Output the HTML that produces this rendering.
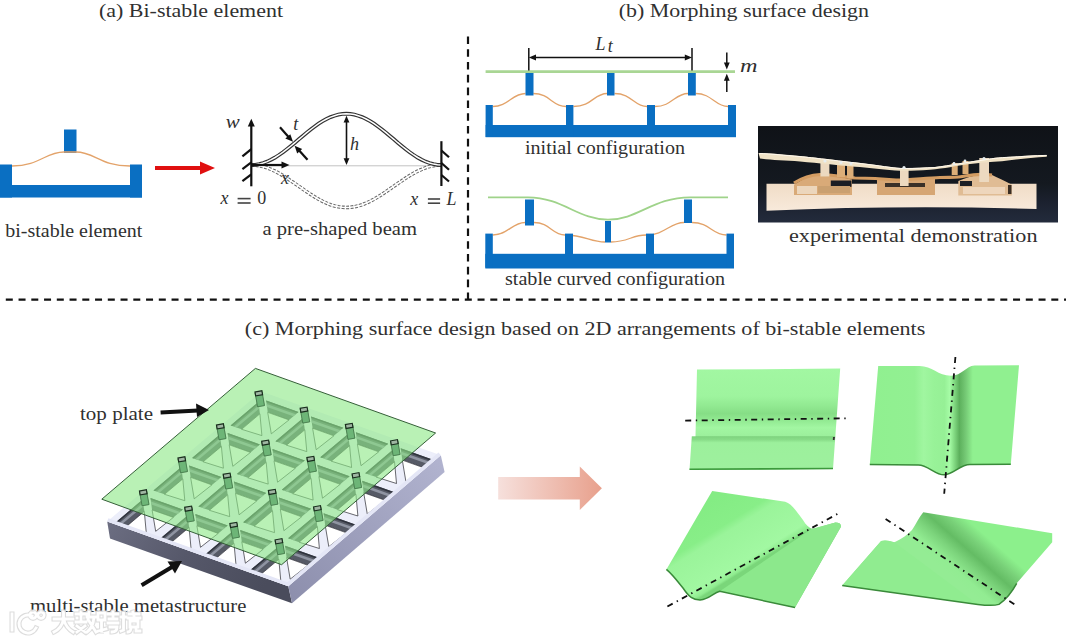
<!DOCTYPE html>
<html><head><meta charset="utf-8">
<style>
html,body{margin:0;padding:0;background:#fff;width:1080px;height:642px;overflow:hidden}
svg{position:absolute;left:0;top:0}
text{font-family:"Liberation Serif",serif;fill:#303030}
.t{font-size:18px}
.m{font-style:italic;font-size:18px}
</style></head><body>
<svg width="1080" height="642" viewBox="0 0 1080 642">
<defs>
<marker id="ah" viewBox="0 0 10 10" refX="9" refY="5" markerWidth="6" markerHeight="6" orient="auto-start-reverse"><path d="M0,1 L10,5 L0,9 z" fill="#111"/></marker>
</defs>
<!-- dashed dividers -->
<line x1="5.8" y1="299.6" x2="1066" y2="299.6" stroke="#111" stroke-width="2.2" stroke-dasharray="7 5.75"/>
<line x1="468" y1="36.4" x2="468" y2="299" stroke="#111" stroke-width="2.2" stroke-dasharray="7.6 5.2"/>

<!-- titles -->
<text class="t" x="99" y="16.8" textLength="184" lengthAdjust="spacingAndGlyphs">(a) Bi-stable element</text>
<text class="t" x="618.7" y="16.8" textLength="250.3" lengthAdjust="spacingAndGlyphs">(b) Morphing surface design</text>
<text class="t" x="244.8" y="335.2" textLength="680.5" lengthAdjust="spacingAndGlyphs">(c) Morphing surface design based on 2D arrangements of bi-stable elements</text>

<!-- captions -->
<text class="t" x="5.3" y="236.5" textLength="137" lengthAdjust="spacingAndGlyphs">bi-stable element</text>
<text class="t" x="262.5" y="235.3" textLength="154.5" lengthAdjust="spacingAndGlyphs">a pre-shaped beam</text>
<text class="t" x="525" y="153.8" textLength="160" lengthAdjust="spacingAndGlyphs">initial configuration</text>
<text class="t" x="505" y="285" textLength="220" lengthAdjust="spacingAndGlyphs">stable curved configuration</text>
<text class="t" x="789" y="241.5" textLength="248.5" lengthAdjust="spacingAndGlyphs">experimental demonstration</text>
<text class="t" x="80" y="419.6" textLength="73" lengthAdjust="spacingAndGlyphs">top plate</text>
<text class="t" x="30" y="611.6" textLength="216.3" lengthAdjust="spacingAndGlyphs">multi-stable metastructure</text>

<!-- (a) bistable element -->
<g fill="#0a6fc2">
<rect x="0" y="164.5" width="12" height="33"/>
<rect x="0" y="185" width="142" height="12.5"/>
<rect x="130" y="164.5" width="12" height="33"/>
<rect x="64" y="129.5" width="12.5" height="23.5"/>
</g>
<path d="M12,166 C40,166 45,152 64,152 L76,152 C95,152 100,166 130,166" fill="none" stroke="#e3a36a" stroke-width="1.3"/>
<!-- red arrow -->
<line x1="155" y1="168" x2="203" y2="168" stroke="#e01010" stroke-width="4"/>
<path d="M200,161.5 L215,168 L200,174.5 z" fill="#e01010"/>


<!-- (a) beam -->
<line x1="251.3" y1="165.8" x2="441.4" y2="165.8" stroke="#bbb" stroke-width="0.9"/>
<path d="M251.3,165.0 255.3,165.2 259.2,165.7 263.2,166.6 267.1,167.8 271.1,169.4 275.1,171.2 279.0,173.3 283.0,175.6 286.9,178.1 290.9,180.8 294.9,183.5 298.8,186.2 302.8,189.0 306.7,191.7 310.7,194.4 314.7,196.9 318.6,199.2 322.6,201.3 326.5,203.1 330.5,204.7 334.5,205.9 338.4,206.8 342.4,207.3 346.4,207.5 350.3,207.3 354.3,206.8 358.2,205.9 362.2,204.7 366.2,203.1 370.1,201.3 374.1,199.2 378.0,196.9 382.0,194.4 386.0,191.7 389.9,189.0 393.9,186.2 397.8,183.5 401.8,180.8 405.8,178.1 409.7,175.6 413.7,173.3 417.6,171.2 421.6,169.4 425.6,167.8 429.5,166.6 433.5,165.7 437.4,165.2 441.4,165.0" fill="none" stroke="#666" stroke-width="3.6" stroke-dasharray="3 1.4"/>
<path d="M251.3,165.0 255.3,165.2 259.2,165.7 263.2,166.6 267.1,167.8 271.1,169.4 275.1,171.2 279.0,173.3 283.0,175.6 286.9,178.1 290.9,180.8 294.9,183.5 298.8,186.2 302.8,189.0 306.7,191.7 310.7,194.4 314.7,196.9 318.6,199.2 322.6,201.3 326.5,203.1 330.5,204.7 334.5,205.9 338.4,206.8 342.4,207.3 346.4,207.5 350.3,207.3 354.3,206.8 358.2,205.9 362.2,204.7 366.2,203.1 370.1,201.3 374.1,199.2 378.0,196.9 382.0,194.4 386.0,191.7 389.9,189.0 393.9,186.2 397.8,183.5 401.8,180.8 405.8,178.1 409.7,175.6 413.7,173.3 417.6,171.2 421.6,169.4 425.6,167.8 429.5,166.6 433.5,165.7 437.4,165.2 441.4,165.0" fill="none" stroke="#fff" stroke-width="1.6"/>
<path d="M251.3,165.0 255.3,164.8 259.2,164.1 263.2,163.0 267.1,161.6 271.1,159.7 275.1,157.5 279.0,155.0 283.0,152.2 286.9,149.2 290.9,146.0 294.9,142.7 298.8,139.3 302.8,136.0 306.7,132.7 310.7,129.5 314.7,126.5 318.6,123.7 322.6,121.2 326.5,119.0 330.5,117.1 334.5,115.7 338.4,114.6 342.4,113.9 346.4,113.7 350.3,113.9 354.3,114.6 358.2,115.7 362.2,117.1 366.2,119.0 370.1,121.2 374.1,123.7 378.0,126.5 382.0,129.5 386.0,132.7 389.9,136.0 393.9,139.3 397.8,142.7 401.8,146.0 405.8,149.2 409.7,152.2 413.7,155.0 417.6,157.5 421.6,159.7 425.6,161.6 429.5,163.0 433.5,164.1 437.4,164.8 441.4,165.0" fill="none" stroke="#333" stroke-width="3.8"/>
<path d="M251.3,165.0 255.3,164.8 259.2,164.1 263.2,163.0 267.1,161.6 271.1,159.7 275.1,157.5 279.0,155.0 283.0,152.2 286.9,149.2 290.9,146.0 294.9,142.7 298.8,139.3 302.8,136.0 306.7,132.7 310.7,129.5 314.7,126.5 318.6,123.7 322.6,121.2 326.5,119.0 330.5,117.1 334.5,115.7 338.4,114.6 342.4,113.9 346.4,113.7 350.3,113.9 354.3,114.6 358.2,115.7 362.2,117.1 366.2,119.0 370.1,121.2 374.1,123.7 378.0,126.5 382.0,129.5 386.0,132.7 389.9,136.0 393.9,139.3 397.8,142.7 401.8,146.0 405.8,149.2 409.7,152.2 413.7,155.0 417.6,157.5 421.6,159.7 425.6,161.6 429.5,163.0 433.5,164.1 437.4,164.8 441.4,165.0" fill="none" stroke="#fff" stroke-width="1.5"/>
<g stroke="#111" stroke-width="2.2" fill="none">
<line x1="251.3" y1="186.3" x2="251.3" y2="124"/>
<line x1="242.4" y1="156.4" x2="251.3" y2="149.2"/>
<line x1="242.4" y1="169.2" x2="251.3" y2="162.4"/>
<line x1="242.4" y1="181.2" x2="251.3" y2="174.3"/>
<line x1="441.4" y1="141.2" x2="441.4" y2="186"/>
<line x1="441.4" y1="150.5" x2="449" y2="157.3"/>
<line x1="441.4" y1="163" x2="449" y2="169.8"/>
<line x1="441.4" y1="175" x2="449" y2="181.5"/>
<line x1="251.3" y1="165" x2="283" y2="165"/>
<line x1="280" y1="127.3" x2="289" y2="137.5"/>
<line x1="307.5" y1="159.8" x2="298.5" y2="149.8"/>
</g>
<g fill="#111">
<path d="M251.3,118.7 L247.8,126.5 L254.8,126.5 z"/>
<path d="M289.5,165 L281.5,161.5 L281.5,168.5 z"/>
<path d="M293,141.8 L285.3,138.6 L290.3,134.2 z"/>
<path d="M294.6,145.8 L302.2,149 L297.2,153.4 z"/>
</g>
<g stroke="#111" stroke-width="1.6">
<line x1="346.5" y1="120" x2="346.5" y2="161"/>
</g>
<g fill="#111">
<path d="M346.5,115.8 L343.6,122.5 L349.4,122.5 z"/>
<path d="M346.5,165 L343.6,158.3 L349.4,158.3 z"/>
</g>
<text class="m" x="225.8" y="128.1" font-size="20" textLength="14" lengthAdjust="spacingAndGlyphs">w</text>
<text class="m" x="293.3" y="129.8" font-size="20">t</text>
<text class="m" x="350" y="149.8" font-size="20">h</text>
<text class="m" x="281" y="183.8">x</text>
<text class="m" x="220.5" y="204.3" font-size="19">x</text><rect x="237.6" y="197.8" width="13" height="1.6" fill="#444"/><rect x="237.6" y="202.2" width="13" height="1.6" fill="#444"/><text class="t" x="257.3" y="204.3" font-size="19">0</text>
<text class="m" x="410.2" y="204.8" font-size="19">x</text><rect x="427.9" y="198.2" width="12.2" height="1.6" fill="#444"/><rect x="427.9" y="202.4" width="12.2" height="1.6" fill="#444"/><text class="m" x="446.5" y="204.8" font-size="19">L</text>


<!-- (b) initial configuration -->
<path d="M492.8,106.5 C508,106.5 512,93.5 525.5,93.5 M533.3,93.5 C550,93.5 552,106.5 566,106.5 M573.4,106.5 C592,106.5 594,93.5 607,93.5 M614.5,93.5 C632,93.5 634,106.5 647,106.5 M655,106.5 C672,106.5 675,93.5 688,93.5 M695.8,93.5 C712,93.5 715,106.5 728,106.5" fill="none" stroke="#e3a36a" stroke-width="1.3"/>
<g fill="#0a6fc2">
<rect x="485.6" y="125" width="250.4" height="12.2"/>
<rect x="485.6" y="105" width="7.2" height="32"/>
<rect x="566" y="105" width="7.4" height="32"/>
<rect x="647" y="105" width="8" height="32"/>
<rect x="728" y="105" width="8" height="32"/>
<rect x="525.5" y="72.5" width="8" height="23"/>
<rect x="607" y="72.5" width="7.5" height="23"/>
<rect x="688" y="72.5" width="7.8" height="23"/>
</g>
<line x1="485.6" y1="71.6" x2="735" y2="71.6" stroke="#a9d694" stroke-width="2.6"/>
<g stroke="#111" stroke-width="1.5">
<line x1="528.8" y1="48" x2="528.8" y2="70.5"/>
<line x1="692" y1="48" x2="692" y2="70.5"/>
<line x1="532" y1="57.5" x2="689" y2="57.5"/>
<line x1="726.8" y1="52.5" x2="726.8" y2="64"/>
<line x1="726.8" y1="92" x2="726.8" y2="79"/>
</g>
<g fill="#111">
<path d="M528.8,57.5 L536,54.6 L536,60.4 z"/>
<path d="M692,57.5 L684.8,54.6 L684.8,60.4 z"/>
<path d="M726.8,69.5 L723.9,62.5 L729.7,62.5 z"/>
<path d="M726.8,73.8 L723.9,80.8 L729.7,80.8 z"/>
</g>
<text class="m" x="595.5" y="50" font-size="19">L</text><text class="m" x="607.8" y="51.8" font-size="11.5">t</text>
<text class="m" x="740" y="72" font-size="19" textLength="17.5" lengthAdjust="spacingAndGlyphs">m</text>

<!-- (b) stable curved configuration -->
<path d="M488,197.4 L528,197.4 C563,197.6 578,219.7 608,219.7 C638,219.7 653,197.4 690,197.4 L728,197.4" fill="none" stroke="#9fd38a" stroke-width="1.8"/>
<path d="M492.8,235 C508,235 512,222.5 525,222.5 M534,222.5 C550,222.5 552,235 565,235 C585,235 590,242 605,242 M611,242 C628,242 632,235 646,235 C665,235 670,222.5 684,222.5 M692,222.5 C710,222.5 712,235 726.5,235" fill="none" stroke="#e3a36a" stroke-width="1.3"/>
<g fill="#0a6fc2">
<rect x="485.3" y="253.8" width="248.7" height="14.7"/>
<rect x="485.3" y="233.6" width="7.5" height="34"/>
<rect x="565" y="233.6" width="8" height="34"/>
<rect x="646" y="233.6" width="8" height="34"/>
<rect x="726.5" y="233.6" width="7.5" height="34"/>
<rect x="525" y="199.5" width="9" height="26"/>
<rect x="605" y="221" width="6" height="21.5"/>
<rect x="684" y="199.5" width="8" height="23.5"/>
</g>


<!-- photo -->
<defs>
<linearGradient id="pbg" x1="0" y1="0" x2="0" y2="1">
<stop offset="0" stop-color="#0f1217"/><stop offset="0.6" stop-color="#141920"/><stop offset="0.8" stop-color="#1c2230"/><stop offset="1" stop-color="#232b3c"/>
</linearGradient>
<linearGradient id="pbase" x1="0" y1="0" x2="0" y2="1">
<stop offset="0" stop-color="#f0dcc6"/><stop offset="1" stop-color="#f8eadb"/>
</linearGradient>
</defs>
<rect x="758" y="126" width="300" height="96.5" fill="url(#pbg)"/>
<!-- base -->
<path d="M766.5,183.8 L1036.5,183.8 L1036.5,209 Q900,205 766.5,210.8 z" fill="url(#pbase)"/>
<!-- cavity blocks with roofs -->
<path d="M794,195 L794,184.7 C800,181 806,177 812,176 L827,175 C835,176 845,178 852,179.5 L852,195 z" fill="#d9aa78"/>
<path d="M830.8,180.5 L851.5,180.5 L851.5,186.8 L830.8,186.8 z" fill="#1a1d24"/>
<path d="M797,186 L817,186 L817,194 L797,194 z" fill="#ecd6bc"/>
<path d="M818,186 L850,186 L850,193 L818,193 z" fill="#caa070"/>
<path d="M877,195 L877,180 C885,178.5 895,179 905,180 C915,179.5 925,178.5 935,178 L935,195 z" fill="#d6a674"/>
<path d="M885,183 L925,183 L925,187 L885,187 z" fill="#3a3028"/>
<path d="M958.3,195.5 L958.3,181.1 C965,178 972,176 978,175 L992,175 C998,178 1005,181 1011.8,184.7 L1011.8,195.5 z" fill="#e0bc94"/>
<path d="M960,181 L972,181 L972,186 L960,186 z" fill="#1c1f26"/>
<path d="M1008,185 L1011.5,185 L1011.5,194 L1008,194 z" fill="#3a2e24"/>
<path d="M963,187 L1005,187 L1005,194 L963,194 z" fill="#eed6bc"/>
<!-- tan beams -->
<path d="M794,183 C802,178 810,175 820,174.5 C835,175 845,177 855,178 C865,178 875,178 896,180 C910,180 925,178 940,177.5 C950,177 958,178 965,176 C975,174 985,174 992,175" fill="none" stroke="#d39c62" stroke-width="3.2"/>
<!-- posts -->
<g fill="#dcae78">
<rect x="837" y="163" width="8" height="14"/>
<rect x="847" y="164" width="6.5" height="14"/>
<rect x="951.7" y="163" width="6" height="12"/>
<rect x="962.5" y="161" width="6" height="13"/>
</g>
<g fill="#ecd9c0">
<rect x="820.4" y="162.5" width="9" height="14"/>
<rect x="900" y="168" width="8.6" height="18"/>
<rect x="979.3" y="158" width="9.7" height="24"/>
</g>
<!-- top plate -->
<path d="M758.5,153 C770,153 785,154.9 800,156 C815,157.5 830,159.5 868,163.9 C885,166 895,168 904,168 C915,168 925,167.5 935,167 C950,165 965,162 984,159.4 C995,157.5 1002,157 1015,156.5 C1030,155.5 1040,155 1047,155 L1046.7,156.8 C1030,158 1015,159.5 1002,161.2 C990,162 984,162 970,164 C955,166 945,168.5 930,169.7 C915,170.8 905,171 895,170.5 C880,169 868,167.5 855,166.7 C835,165 820,163.2 800,161.5 C785,160.4 770,160 760,158.5 z" fill="#f0e2c6"/>
<path d="M759.5,153.6 C770,153.6 785,155.5 800,156.6 C815,158 830,160 868,164.4 C885,166.5 895,168.5 904,168.5 C915,168.5 925,168 935,167.5 C950,165.5 965,162.5 984,160 C995,158 1002,157.5 1015,157 C1030,156 1040,155.5 1046.5,155.4" fill="none" stroke="#fff8ec" stroke-width="1"/>
<g fill="#e8eef0">
<circle cx="825" cy="161" r="1.6"/><circle cx="841" cy="162.5" r="1.5"/><circle cx="851" cy="163.5" r="1.5"/><circle cx="904" cy="167.5" r="1.6"/><circle cx="954" cy="163.5" r="1.4"/><circle cx="965" cy="161" r="1.4"/><circle cx="984" cy="158.5" r="1.6"/>
</g>
<!--3D-->
<defs><linearGradient id="lf" x1="0" y1="0" x2="1" y2="0.3"><stop offset="0" stop-color="#6c6e82"/><stop offset="0.5" stop-color="#56586a"/><stop offset="1" stop-color="#4a4c5c"/></linearGradient>
<linearGradient id="rf" x1="0" y1="1" x2="1" y2="0"><stop offset="0" stop-color="#8c8eac"/><stop offset="1" stop-color="#b2b4d0"/></linearGradient>
<clipPath id="baseclip"><polygon points="107.2,521.5 261.4,391.4 440.8,455.2 288.3,586.3" /></clipPath>
</defs>
<polygon points="107.2,521.5 288.3,586.3 292.0,603.3 110.0,538.5" fill="url(#lf)"/>
<polygon points="288.3,586.3 440.8,455.2 444.6,472.0 292.0,603.3" fill="url(#rf)"/>
<polygon points="107.2,521.5 261.4,391.4 440.8,455.2 288.3,586.3" fill="#eceefa"/>
<g clip-path="url(#baseclip)">
<polygon points="266.2,400.4 298.5,411.9 289.0,419.9 267.7,412.3" fill="#565a66"/>
<polygon points="266.6,404.0 295.6,414.3 293.3,416.3 267.0,406.9" fill="#8f94a2"/>
<polygon points="266.2,400.4 298.5,411.9 297.1,413.1 266.4,402.2" fill="#30343e"/>
<polygon points="267.7,412.3 289.0,419.9 271.3,433.8" fill="#ffffff" stroke="#2a2a30" stroke-width="0.7"/>
<polygon points="230.6,425.4 258.4,402.0 259.9,413.8 241.6,429.3" fill="#565a66"/>
<polygon points="233.9,426.5 258.9,405.5 259.2,408.5 236.7,427.5" fill="#8f94a2"/>
<polygon points="230.6,425.4 258.4,402.0 258.6,403.7 232.3,426.0" fill="#30343e"/>
<polygon points="241.6,429.3 259.9,413.8 261.9,435.6" fill="#ffffff" stroke="#2a2a30" stroke-width="0.7"/>
<polygon points="227.6,432.9 259.9,444.4 250.5,452.4 229.2,444.8" fill="#565a66"/>
<polygon points="228.1,436.5 257.1,446.8 254.7,448.8 228.5,439.5" fill="#8f94a2"/>
<polygon points="227.6,432.9 259.9,444.4 258.5,445.6 227.9,434.7" fill="#30343e"/>
<polygon points="229.2,444.8 250.5,452.4 232.8,466.3" fill="#ffffff" stroke="#2a2a30" stroke-width="0.7"/>
<polygon points="192.1,457.9 219.8,434.5 221.4,446.4 203.1,461.8" fill="#565a66"/>
<polygon points="195.4,459.1 220.3,438.0 220.7,441.0 198.1,460.1" fill="#8f94a2"/>
<polygon points="192.1,457.9 219.8,434.5 220.1,436.3 193.7,458.5" fill="#30343e"/>
<polygon points="203.1,461.8 221.4,446.4 223.4,468.2" fill="#ffffff" stroke="#2a2a30" stroke-width="0.7"/>
<polygon points="189.1,465.5 221.4,476.9 211.9,484.9 190.6,477.3" fill="#565a66"/>
<polygon points="189.5,469.0 218.5,479.3 216.2,481.3 189.9,472.0" fill="#8f94a2"/>
<polygon points="189.1,465.5 221.4,476.9 220.0,478.1 189.3,467.2" fill="#30343e"/>
<polygon points="190.6,477.3 211.9,484.9 194.2,498.8" fill="#ffffff" stroke="#2a2a30" stroke-width="0.7"/>
<polygon points="153.5,490.4 181.3,467.0 182.8,478.9 164.5,494.3" fill="#565a66"/>
<polygon points="156.8,491.6 181.8,470.6 182.1,473.5 159.6,492.6" fill="#8f94a2"/>
<polygon points="153.5,490.4 181.3,467.0 181.5,468.8 155.2,491.0" fill="#30343e"/>
<polygon points="164.5,494.3 182.8,478.9 184.8,500.7" fill="#ffffff" stroke="#2a2a30" stroke-width="0.7"/>
<polygon points="150.5,498.0 182.8,509.5 173.4,517.4 152.1,509.9" fill="#565a66"/>
<polygon points="151.0,501.5 180.0,511.9 177.6,513.9 151.4,504.5" fill="#8f94a2"/>
<polygon points="150.5,498.0 182.8,509.5 181.4,510.7 150.8,499.8" fill="#30343e"/>
<polygon points="152.1,509.9 173.4,517.4 155.7,531.3" fill="#ffffff" stroke="#2a2a30" stroke-width="0.7"/>
<polygon points="115.0,523.0 142.7,499.5 144.3,511.4 126.0,526.9" fill="#565a66"/>
<polygon points="118.3,524.1 143.2,503.1 143.6,506.1 121.0,525.1" fill="#8f94a2"/>
<polygon points="115.0,523.0 142.7,499.5 143.0,501.3 116.6,523.5" fill="#30343e"/>
<polygon points="126.0,526.9 144.3,511.4 146.3,533.2" fill="#ffffff" stroke="#2a2a30" stroke-width="0.7"/>
<polygon points="311.0,416.4 343.3,427.8 333.9,435.8 312.6,428.2" fill="#565a66"/>
<polygon points="311.5,419.9 340.5,430.2 338.1,432.2 311.9,422.9" fill="#8f94a2"/>
<polygon points="311.0,416.4 343.3,427.8 341.9,429.0 311.3,418.1" fill="#30343e"/>
<polygon points="312.6,428.2 333.9,435.8 316.2,449.7" fill="#ffffff" stroke="#2a2a30" stroke-width="0.7"/>
<polygon points="275.5,441.3 303.2,417.9 304.8,429.8 286.5,445.2" fill="#565a66"/>
<polygon points="278.8,442.5 303.7,421.5 304.1,424.4 281.5,443.5" fill="#8f94a2"/>
<polygon points="275.5,441.3 303.2,417.9 303.5,419.7 277.1,441.9" fill="#30343e"/>
<polygon points="286.5,445.2 304.8,429.8 306.8,451.6" fill="#ffffff" stroke="#2a2a30" stroke-width="0.7"/>
<polygon points="272.5,448.9 304.8,460.4 295.3,468.3 274.0,460.8" fill="#565a66"/>
<polygon points="272.9,452.4 301.9,462.8 299.6,464.8 273.3,455.4" fill="#8f94a2"/>
<polygon points="272.5,448.9 304.8,460.4 303.4,461.6 272.7,450.7" fill="#30343e"/>
<polygon points="274.0,460.8 295.3,468.3 277.6,482.2" fill="#ffffff" stroke="#2a2a30" stroke-width="0.7"/>
<polygon points="236.9,473.9 264.7,450.4 266.2,462.3 247.9,477.8" fill="#565a66"/>
<polygon points="240.2,475.0 265.2,454.0 265.5,457.0 243.0,476.0" fill="#8f94a2"/>
<polygon points="236.9,473.9 264.7,450.4 264.9,452.2 238.6,474.4" fill="#30343e"/>
<polygon points="247.9,477.8 266.2,462.3 268.2,484.1" fill="#ffffff" stroke="#2a2a30" stroke-width="0.7"/>
<polygon points="233.9,481.4 266.2,492.9 256.8,500.9 235.5,493.3" fill="#565a66"/>
<polygon points="234.4,485.0 263.4,495.3 261.0,497.3 234.8,487.9" fill="#8f94a2"/>
<polygon points="233.9,481.4 266.2,492.9 264.8,494.1 234.2,483.2" fill="#30343e"/>
<polygon points="235.5,493.3 256.8,500.9 239.1,514.8" fill="#ffffff" stroke="#2a2a30" stroke-width="0.7"/>
<polygon points="198.4,506.4 226.1,483.0 227.7,494.8 209.4,510.3" fill="#565a66"/>
<polygon points="201.7,507.5 226.6,486.5 227.0,489.5 204.4,508.5" fill="#8f94a2"/>
<polygon points="198.4,506.4 226.1,483.0 226.4,484.7 200.0,507.0" fill="#30343e"/>
<polygon points="209.4,510.3 227.7,494.8 229.7,516.6" fill="#ffffff" stroke="#2a2a30" stroke-width="0.7"/>
<polygon points="195.4,513.9 227.7,525.4 218.2,533.4 196.9,525.8" fill="#565a66"/>
<polygon points="195.8,517.5 224.8,527.8 222.5,529.8 196.2,520.5" fill="#8f94a2"/>
<polygon points="195.4,513.9 227.7,525.4 226.3,526.6 195.6,515.7" fill="#30343e"/>
<polygon points="196.9,525.8 218.2,533.4 200.5,547.3" fill="#ffffff" stroke="#2a2a30" stroke-width="0.7"/>
<polygon points="159.8,538.9 187.6,515.5 189.1,527.4 170.8,542.8" fill="#565a66"/>
<polygon points="163.1,540.1 188.1,519.0 188.4,522.0 165.9,541.1" fill="#8f94a2"/>
<polygon points="159.8,538.9 187.6,515.5 187.8,517.3 161.5,539.5" fill="#30343e"/>
<polygon points="170.8,542.8 189.1,527.4 191.1,549.2" fill="#ffffff" stroke="#2a2a30" stroke-width="0.7"/>
<polygon points="355.9,432.3 388.2,443.8 378.7,451.8 357.4,444.2" fill="#565a66"/>
<polygon points="356.3,435.9 385.3,446.2 383.0,448.2 356.7,438.8" fill="#8f94a2"/>
<polygon points="355.9,432.3 388.2,443.8 386.8,445.0 356.1,434.1" fill="#30343e"/>
<polygon points="357.4,444.2 378.7,451.8 361.0,465.7" fill="#ffffff" stroke="#2a2a30" stroke-width="0.7"/>
<polygon points="320.3,457.3 348.1,433.9 349.6,445.7 331.3,461.2" fill="#565a66"/>
<polygon points="323.6,458.4 348.6,437.4 348.9,440.4 326.4,459.4" fill="#8f94a2"/>
<polygon points="320.3,457.3 348.1,433.9 348.3,435.6 322.0,457.9" fill="#30343e"/>
<polygon points="331.3,461.2 349.6,445.7 351.6,467.5" fill="#ffffff" stroke="#2a2a30" stroke-width="0.7"/>
<polygon points="317.3,464.8 349.6,476.3 340.2,484.3 318.9,476.7" fill="#565a66"/>
<polygon points="317.8,468.4 346.8,478.7 344.4,480.7 318.2,471.4" fill="#8f94a2"/>
<polygon points="317.3,464.8 349.6,476.3 348.2,477.5 317.6,466.6" fill="#30343e"/>
<polygon points="318.9,476.7 340.2,484.3 322.5,498.2" fill="#ffffff" stroke="#2a2a30" stroke-width="0.7"/>
<polygon points="281.8,489.8 309.5,466.4 311.1,478.3 292.8,493.7" fill="#565a66"/>
<polygon points="285.1,491.0 310.0,469.9 310.4,472.9 287.8,492.0" fill="#8f94a2"/>
<polygon points="281.8,489.8 309.5,466.4 309.8,468.2 283.4,490.4" fill="#30343e"/>
<polygon points="292.8,493.7 311.1,478.3 313.1,500.1" fill="#ffffff" stroke="#2a2a30" stroke-width="0.7"/>
<polygon points="278.8,497.4 311.1,508.8 301.6,516.8 280.3,509.2" fill="#565a66"/>
<polygon points="279.2,500.9 308.2,511.2 305.9,513.2 279.6,503.9" fill="#8f94a2"/>
<polygon points="278.8,497.4 311.1,508.8 309.7,510.0 279.0,499.1" fill="#30343e"/>
<polygon points="280.3,509.2 301.6,516.8 283.9,530.7" fill="#ffffff" stroke="#2a2a30" stroke-width="0.7"/>
<polygon points="243.2,522.3 271.0,498.9 272.5,510.8 254.2,526.2" fill="#565a66"/>
<polygon points="246.5,523.5 271.5,502.5 271.8,505.4 249.3,524.5" fill="#8f94a2"/>
<polygon points="243.2,522.3 271.0,498.9 271.2,500.7 244.9,522.9" fill="#30343e"/>
<polygon points="254.2,526.2 272.5,510.8 274.5,532.6" fill="#ffffff" stroke="#2a2a30" stroke-width="0.7"/>
<polygon points="240.2,529.9 272.5,541.4 263.1,549.3 241.8,541.8" fill="#565a66"/>
<polygon points="240.7,533.4 269.7,543.8 267.3,545.8 241.1,536.4" fill="#8f94a2"/>
<polygon points="240.2,529.9 272.5,541.4 271.1,542.6 240.5,531.7" fill="#30343e"/>
<polygon points="241.8,541.8 263.1,549.3 245.4,563.2" fill="#ffffff" stroke="#2a2a30" stroke-width="0.7"/>
<polygon points="204.7,554.9 232.4,531.4 234.0,543.3 215.7,558.8" fill="#565a66"/>
<polygon points="208.0,556.0 232.9,535.0 233.3,538.0 210.7,557.0" fill="#8f94a2"/>
<polygon points="204.7,554.9 232.4,531.4 232.7,533.2 206.3,555.4" fill="#30343e"/>
<polygon points="215.7,558.8 234.0,543.3 236.0,565.1" fill="#ffffff" stroke="#2a2a30" stroke-width="0.7"/>
<polygon points="400.7,448.3 433.0,459.7 423.6,467.7 402.3,460.1" fill="#565a66"/>
<polygon points="401.2,451.8 430.2,462.1 427.8,464.1 401.6,454.8" fill="#8f94a2"/>
<polygon points="400.7,448.3 433.0,459.7 431.6,460.9 401.0,450.0" fill="#30343e"/>
<polygon points="402.3,460.1 423.6,467.7 405.9,481.6" fill="#ffffff" stroke="#2a2a30" stroke-width="0.7"/>
<polygon points="365.2,473.2 392.9,449.8 394.5,461.7 376.2,477.1" fill="#565a66"/>
<polygon points="368.5,474.4 393.4,453.4 393.8,456.3 371.2,475.4" fill="#8f94a2"/>
<polygon points="365.2,473.2 392.9,449.8 393.2,451.6 366.8,473.8" fill="#30343e"/>
<polygon points="376.2,477.1 394.5,461.7 396.5,483.5" fill="#ffffff" stroke="#2a2a30" stroke-width="0.7"/>
<polygon points="362.2,480.8 394.5,492.3 385.0,500.2 363.7,492.7" fill="#565a66"/>
<polygon points="362.6,484.3 391.6,494.7 389.3,496.7 363.0,487.3" fill="#8f94a2"/>
<polygon points="362.2,480.8 394.5,492.3 393.1,493.5 362.4,482.6" fill="#30343e"/>
<polygon points="363.7,492.7 385.0,500.2 367.3,514.1" fill="#ffffff" stroke="#2a2a30" stroke-width="0.7"/>
<polygon points="326.6,505.8 354.4,482.3 355.9,494.2 337.6,509.7" fill="#565a66"/>
<polygon points="329.9,506.9 354.9,485.9 355.2,488.9 332.7,507.9" fill="#8f94a2"/>
<polygon points="326.6,505.8 354.4,482.3 354.6,484.1 328.3,506.3" fill="#30343e"/>
<polygon points="337.6,509.7 355.9,494.2 357.9,516.0" fill="#ffffff" stroke="#2a2a30" stroke-width="0.7"/>
<polygon points="323.6,513.3 355.9,524.8 346.5,532.8 325.2,525.2" fill="#565a66"/>
<polygon points="324.1,516.9 353.1,527.2 350.7,529.2 324.5,519.8" fill="#8f94a2"/>
<polygon points="323.6,513.3 355.9,524.8 354.5,526.0 323.9,515.1" fill="#30343e"/>
<polygon points="325.2,525.2 346.5,532.8 328.8,546.7" fill="#ffffff" stroke="#2a2a30" stroke-width="0.7"/>
<polygon points="288.1,538.3 315.8,514.9 317.4,526.7 299.1,542.2" fill="#565a66"/>
<polygon points="291.4,539.4 316.3,518.4 316.7,521.4 294.1,540.4" fill="#8f94a2"/>
<polygon points="288.1,538.3 315.8,514.9 316.1,516.6 289.7,538.9" fill="#30343e"/>
<polygon points="299.1,542.2 317.4,526.7 319.4,548.5" fill="#ffffff" stroke="#2a2a30" stroke-width="0.7"/>
<polygon points="285.1,545.8 317.4,557.3 307.9,565.3 286.6,557.7" fill="#565a66"/>
<polygon points="285.5,549.4 314.5,559.7 312.2,561.7 285.9,552.4" fill="#8f94a2"/>
<polygon points="285.1,545.8 317.4,557.3 316.0,558.5 285.3,547.6" fill="#30343e"/>
<polygon points="286.6,557.7 307.9,565.3 290.2,579.2" fill="#ffffff" stroke="#2a2a30" stroke-width="0.7"/>
<polygon points="249.5,570.8 277.3,547.4 278.8,559.3 260.5,574.7" fill="#565a66"/>
<polygon points="252.8,572.0 277.8,550.9 278.1,553.9 255.6,573.0" fill="#8f94a2"/>
<polygon points="249.5,570.8 277.3,547.4 277.5,549.2 251.2,571.4" fill="#30343e"/>
<polygon points="260.5,574.7 278.8,559.3 280.8,581.1" fill="#ffffff" stroke="#2a2a30" stroke-width="0.7"/>
</g>
<polygon points="107.2,521.5 288.3,586.3 289.5,583.0 108.4,518.2" fill="#e4e6f6"/>
<polygon points="288.3,586.3 440.8,455.2 438.5,452.5 286.0,583.6" fill="#e4e6f6"/>
<g transform="rotate(-10 258.4 392.4)"><rect x="255.1" y="392.4" width="7" height="14" fill="#40444f" stroke="#202430" stroke-width="0.6"/></g>
<g transform="rotate(-10 219.9 425.4)"><rect x="216.6" y="425.4" width="7" height="14" fill="#40444f" stroke="#202430" stroke-width="0.6"/></g>
<g transform="rotate(-10 181.4 458.4)"><rect x="178.1" y="458.4" width="7" height="14" fill="#40444f" stroke="#202430" stroke-width="0.6"/></g>
<g transform="rotate(-10 142.9 491.4)"><rect x="139.6" y="491.4" width="7" height="14" fill="#40444f" stroke="#202430" stroke-width="0.6"/></g>
<g transform="rotate(-10 303.6 408.7)"><rect x="300.3" y="408.7" width="7" height="14" fill="#40444f" stroke="#202430" stroke-width="0.6"/></g>
<g transform="rotate(-10 265.1 441.7)"><rect x="261.8" y="441.7" width="7" height="14" fill="#40444f" stroke="#202430" stroke-width="0.6"/></g>
<g transform="rotate(-10 226.6 474.7)"><rect x="223.3" y="474.7" width="7" height="14" fill="#40444f" stroke="#202430" stroke-width="0.6"/></g>
<g transform="rotate(-10 188.1 507.7)"><rect x="184.8" y="507.7" width="7" height="14" fill="#40444f" stroke="#202430" stroke-width="0.6"/></g>
<g transform="rotate(-10 348.8 425.0)"><rect x="345.5" y="425.0" width="7" height="14" fill="#40444f" stroke="#202430" stroke-width="0.6"/></g>
<g transform="rotate(-10 310.3 458.0)"><rect x="307.0" y="458.0" width="7" height="14" fill="#40444f" stroke="#202430" stroke-width="0.6"/></g>
<g transform="rotate(-10 271.8 491.0)"><rect x="268.5" y="491.0" width="7" height="14" fill="#40444f" stroke="#202430" stroke-width="0.6"/></g>
<g transform="rotate(-10 233.3 524.0)"><rect x="230.0" y="524.0" width="7" height="14" fill="#40444f" stroke="#202430" stroke-width="0.6"/></g>
<g transform="rotate(-10 394.0 441.3)"><rect x="390.7" y="441.3" width="7" height="14" fill="#40444f" stroke="#202430" stroke-width="0.6"/></g>
<g transform="rotate(-10 355.5 474.3)"><rect x="352.2" y="474.3" width="7" height="14" fill="#40444f" stroke="#202430" stroke-width="0.6"/></g>
<g transform="rotate(-10 317.0 507.3)"><rect x="313.7" y="507.3" width="7" height="14" fill="#40444f" stroke="#202430" stroke-width="0.6"/></g>
<g transform="rotate(-10 278.5 540.3)"><rect x="275.2" y="540.3" width="7" height="14" fill="#40444f" stroke="#202430" stroke-width="0.6"/></g>
<polygon points="255.4,368.4 435.6,433.0 281.6,564.7 101.8,499.2" fill="#8ee888" fill-opacity="0.62" stroke="#355f38" stroke-width="1"/>
<g transform="rotate(-10 258.4 392.4)"><rect x="255.1" y="392.4" width="7" height="14" fill="#6db577" stroke="#3a6a40" stroke-width="0.6"/><rect x="255.1" y="391.4" width="7" height="4" fill="#9fb6a2" stroke="#1a2e1e" stroke-width="1.2"/></g>
<g transform="rotate(-10 219.9 425.4)"><rect x="216.6" y="425.4" width="7" height="14" fill="#6db577" stroke="#3a6a40" stroke-width="0.6"/><rect x="216.6" y="424.4" width="7" height="4" fill="#9fb6a2" stroke="#1a2e1e" stroke-width="1.2"/></g>
<g transform="rotate(-10 181.4 458.4)"><rect x="178.1" y="458.4" width="7" height="14" fill="#6db577" stroke="#3a6a40" stroke-width="0.6"/><rect x="178.1" y="457.4" width="7" height="4" fill="#9fb6a2" stroke="#1a2e1e" stroke-width="1.2"/></g>
<g transform="rotate(-10 142.9 491.4)"><rect x="139.6" y="491.4" width="7" height="14" fill="#6db577" stroke="#3a6a40" stroke-width="0.6"/><rect x="139.6" y="490.4" width="7" height="4" fill="#9fb6a2" stroke="#1a2e1e" stroke-width="1.2"/></g>
<g transform="rotate(-10 303.6 408.7)"><rect x="300.3" y="408.7" width="7" height="14" fill="#6db577" stroke="#3a6a40" stroke-width="0.6"/><rect x="300.3" y="407.7" width="7" height="4" fill="#9fb6a2" stroke="#1a2e1e" stroke-width="1.2"/></g>
<g transform="rotate(-10 265.1 441.7)"><rect x="261.8" y="441.7" width="7" height="14" fill="#6db577" stroke="#3a6a40" stroke-width="0.6"/><rect x="261.8" y="440.7" width="7" height="4" fill="#9fb6a2" stroke="#1a2e1e" stroke-width="1.2"/></g>
<g transform="rotate(-10 226.6 474.7)"><rect x="223.3" y="474.7" width="7" height="14" fill="#6db577" stroke="#3a6a40" stroke-width="0.6"/><rect x="223.3" y="473.7" width="7" height="4" fill="#9fb6a2" stroke="#1a2e1e" stroke-width="1.2"/></g>
<g transform="rotate(-10 188.1 507.7)"><rect x="184.8" y="507.7" width="7" height="14" fill="#6db577" stroke="#3a6a40" stroke-width="0.6"/><rect x="184.8" y="506.7" width="7" height="4" fill="#9fb6a2" stroke="#1a2e1e" stroke-width="1.2"/></g>
<g transform="rotate(-10 348.8 425.0)"><rect x="345.5" y="425.0" width="7" height="14" fill="#6db577" stroke="#3a6a40" stroke-width="0.6"/><rect x="345.5" y="424.0" width="7" height="4" fill="#9fb6a2" stroke="#1a2e1e" stroke-width="1.2"/></g>
<g transform="rotate(-10 310.3 458.0)"><rect x="307.0" y="458.0" width="7" height="14" fill="#6db577" stroke="#3a6a40" stroke-width="0.6"/><rect x="307.0" y="457.0" width="7" height="4" fill="#9fb6a2" stroke="#1a2e1e" stroke-width="1.2"/></g>
<g transform="rotate(-10 271.8 491.0)"><rect x="268.5" y="491.0" width="7" height="14" fill="#6db577" stroke="#3a6a40" stroke-width="0.6"/><rect x="268.5" y="490.0" width="7" height="4" fill="#9fb6a2" stroke="#1a2e1e" stroke-width="1.2"/></g>
<g transform="rotate(-10 233.3 524.0)"><rect x="230.0" y="524.0" width="7" height="14" fill="#6db577" stroke="#3a6a40" stroke-width="0.6"/><rect x="230.0" y="523.0" width="7" height="4" fill="#9fb6a2" stroke="#1a2e1e" stroke-width="1.2"/></g>
<g transform="rotate(-10 394.0 441.3)"><rect x="390.7" y="441.3" width="7" height="14" fill="#6db577" stroke="#3a6a40" stroke-width="0.6"/><rect x="390.7" y="440.3" width="7" height="4" fill="#9fb6a2" stroke="#1a2e1e" stroke-width="1.2"/></g>
<g transform="rotate(-10 355.5 474.3)"><rect x="352.2" y="474.3" width="7" height="14" fill="#6db577" stroke="#3a6a40" stroke-width="0.6"/><rect x="352.2" y="473.3" width="7" height="4" fill="#9fb6a2" stroke="#1a2e1e" stroke-width="1.2"/></g>
<g transform="rotate(-10 317.0 507.3)"><rect x="313.7" y="507.3" width="7" height="14" fill="#6db577" stroke="#3a6a40" stroke-width="0.6"/><rect x="313.7" y="506.3" width="7" height="4" fill="#9fb6a2" stroke="#1a2e1e" stroke-width="1.2"/></g>
<g transform="rotate(-10 278.5 540.3)"><rect x="275.2" y="540.3" width="7" height="14" fill="#6db577" stroke="#3a6a40" stroke-width="0.6"/><rect x="275.2" y="539.3" width="7" height="4" fill="#9fb6a2" stroke="#1a2e1e" stroke-width="1.2"/></g>
<line x1="160.6" y1="412.6" x2="198" y2="410.4" stroke="#111" stroke-width="4"/>
<path d="M209,410 L196,403.5 L197,417 z" fill="#111"/>
<line x1="141.6" y1="585.3" x2="172" y2="567" stroke="#111" stroke-width="4"/>
<path d="M182,561 L167.5,561.5 L175,573.5 z" fill="#111"/>
<!--/3D-->
<!--SURF-->
<defs>
<linearGradient id="s1g" x1="0" y1="369" x2="0" y2="470" gradientUnits="userSpaceOnUse">
<stop offset="0" stop-color="#a2f7a2"/>
<stop offset="0.27" stop-color="#9ef49e"/>
<stop offset="0.36" stop-color="#92ea92"/>
<stop offset="0.44" stop-color="#86de86"/>
<stop offset="0.50" stop-color="#90e890"/>
<stop offset="0.58" stop-color="#a2f6a2"/>
<stop offset="0.66" stop-color="#9cf09c"/>
<stop offset="0.67" stop-color="#80d480"/>
<stop offset="0.70" stop-color="#88dc88"/>
<stop offset="0.73" stop-color="#9cf09c"/>
<stop offset="1" stop-color="#9ef09e"/>
</linearGradient>
<linearGradient id="s2g" x1="870" y1="0" x2="1019" y2="0" gradientUnits="userSpaceOnUse">
<stop offset="0" stop-color="#90f090"/>
<stop offset="0.30" stop-color="#92f092"/>
<stop offset="0.36" stop-color="#a0f6a0"/>
<stop offset="0.43" stop-color="#98f298"/>
<stop offset="0.50" stop-color="#96f096"/>
<stop offset="0.535" stop-color="#a6fca6"/>
<stop offset="0.56" stop-color="#88e088"/>
<stop offset="0.60" stop-color="#5cb05c"/>
<stop offset="0.64" stop-color="#74c874"/>
<stop offset="0.69" stop-color="#90f090"/>
<stop offset="1" stop-color="#90f090"/>
</linearGradient>
<linearGradient id="s3g" x1="659.3" y1="532.6" x2="700" y2="598" gradientUnits="userSpaceOnUse">
<stop offset="0" stop-color="#84ec84"/>
<stop offset="0.36" stop-color="#88ee88"/>
<stop offset="0.46" stop-color="#9af49a"/>
<stop offset="0.9" stop-color="#a2f8a2"/>
<stop offset="0.97" stop-color="#90ec90"/>
<stop offset="1" stop-color="#7ad67a"/>
</linearGradient>
<linearGradient id="s4g" x1="985" y1="535" x2="950" y2="575" gradientUnits="userSpaceOnUse">
<stop offset="0" stop-color="#8cf08c"/>
<stop offset="0.22" stop-color="#78d078"/>
<stop offset="0.42" stop-color="#64bc64"/>
<stop offset="0.62" stop-color="#7cd47c"/>
<stop offset="0.85" stop-color="#92ec92"/>
<stop offset="1" stop-color="#94ec94"/>
</linearGradient>
<linearGradient id="arrg" x1="498" y1="0" x2="602" y2="0" gradientUnits="userSpaceOnUse">
<stop offset="0" stop-color="#f6e0dc"/><stop offset="1" stop-color="#e8a08c"/>
</linearGradient>
</defs>
<path d="M498.2,477.1 L579.8,477.1 L579.8,466.6 L601.9,488.3 L579.8,510 L579.8,499.6 L498.2,499.6 z" fill="url(#arrg)"/>
<path d="M697,369.6 L840.2,368.6 L833,469 L689.5,469.8 L691.8,436.3 L695.5,436.3 z" fill="url(#s1g)"/>
<path d="M689.5,469.3 L833,468.5" stroke="#3c9a3c" stroke-width="1.6" fill="none"/>
<path d="M833,437 L835,437 L834.5,440 L832.8,440 z" fill="#333"/>
<path d="M878.2,366 L919.6,366 C932,366 938,375.7 951,375.7 C962,375.7 966,366 974.5,365.5 L1019,365.2 L1010.8,464.3 L970,464.5 C960,464.5 953,474.8 944,474.8 C935,474.8 928,465 918.4,465 L869.8,464.5 z" fill="url(#s2g)"/>
<path d="M869.8,464.5 L918.4,465 C928,465 935,474.8 944,474.8 C953,474.8 960,464.5 970,464.5 L1010.8,464.3" stroke="#3a8a3a" stroke-width="1.5" fill="none"/>
<path d="M712.2,490.9 L785.2,501.8 C792,504 797,512 803,520 C806,525 809,528 813,529.1 L835.4,522.5 C839,522.5 841.5,524 840.8,526.9 L795,607.6 L719.8,591.2 C713,593 710,598.9 700,600 C693,600 689,597 683,588 C678.4,582.5 673,575 666.4,569.4 z" fill="url(#s3g)"/>
<path d="M811.4,529.1 L835.4,522.5 C839,522.5 841.5,524 840.8,526.9 L795,607.6 L719.8,591.2 z" fill="#8ce88c"/>
<path d="M666.4,569.4 C673,575 678.4,582.5 683,588 C689,597 693,600 700,600 C710,598.9 713,593 719.8,591.2 L795,607.6" stroke="#3a8a3a" stroke-width="1.5" fill="none"/>
<path d="M923.3,512.2 L1052.2,533.3 L1052.2,542.2 L1016.7,583.3 C1012,592 1008,598 998.9,604.4 C993,606 988,605.6 977.8,604.4 L842.2,585.6 L881.1,541.1 C885,539.5 890,541 894.4,542.2 C902,539 908,534 912,530 C916,524 919,517 923.3,512.2 z" fill="url(#s4g)"/>
<path d="M842.2,585.6 L881.1,541.1 C885,539.5 890,541 894.4,542.2 L977.8,604.4 L842.2,585.6 z" fill="#90ec90"/>
<path d="M842.2,585.6 L977.8,604.4 C988,605.6 993,606 998.9,604.4 C1008,598 1012,592 1016.7,583.3" stroke="#3a8a3a" stroke-width="1.5" fill="none"/>
<line x1="685.2" y1="420.6" x2="848" y2="418.3" stroke="#111" stroke-width="1.8" stroke-dasharray="6 4.6 1.4 4.5" fill="none"/>
<line x1="955.4" y1="357" x2="944.2" y2="493.8" stroke="#111" stroke-width="1.8" stroke-dasharray="6 4.6 1.4 4.5" fill="none"/>
<line x1="667.4" y1="606.5" x2="839.7" y2="512.7" stroke="#111" stroke-width="1.8" stroke-dasharray="6 4.6 1.4 4.5" fill="none"/>
<line x1="885.6" y1="518.9" x2="1014.4" y2="604.4" stroke="#111" stroke-width="1.8" stroke-dasharray="6 4.6 1.4 4.5" fill="none"/>
<!--/SURF-->

<!--WM-->
<g fill="none" stroke-linecap="square" opacity="0.9">
<g stroke="#dadada" stroke-width="5">
<path d="M12,614 L12,630 M32,616 A9,9 0 1 0 36,628 M33,612 a3.2,3.2 0 1 0 0.1,0 M41,612 a3.2,3.2 0 1 0 0.1,0"/>
<path d="M54,619 L73,619 M63.5,612 L63.5,619 Q62,628 54,632 M64,620 Q66,628 73,632"/>
<path d="M76,614 L86,614 M81,612 L81,622 M76,622 L86,622 M77,626 L85,632 M85,626 L77,632 M89,612 L88,620 M87,617 L96,617 M94,617 Q93,628 87,632 M89,621 L96,632"/>
<path d="M98,613 L105,613 L105,620 L98,620 z M101.5,620 L101.5,631 M98,631 L106,629 M108,614 L118,614 M113,612 L113,617 M109,619 L117,619 M108,623 L118,623 M110,627 L117,627 Q117,632 112,632"/>
<path d="M121,617 L126,617 M123.5,613 L123.5,630 L121,631 M129,614 L139,614 M133,612 L134,616 M128,618 L140,618 M130,621 L138,621 L138,627 L130,627 z M131,627 Q131,632 128,632 M136,627 L136,631 L140,631"/>
</g>
<g stroke="#ffffff" stroke-width="2.8">
<path d="M12,614 L12,630 M32,616 A9,9 0 1 0 36,628 M33,612 a3.2,3.2 0 1 0 0.1,0 M41,612 a3.2,3.2 0 1 0 0.1,0"/>
<path d="M54,619 L73,619 M63.5,612 L63.5,619 Q62,628 54,632 M64,620 Q66,628 73,632"/>
<path d="M76,614 L86,614 M81,612 L81,622 M76,622 L86,622 M77,626 L85,632 M85,626 L77,632 M89,612 L88,620 M87,617 L96,617 M94,617 Q93,628 87,632 M89,621 L96,632"/>
<path d="M98,613 L105,613 L105,620 L98,620 z M101.5,620 L101.5,631 M98,631 L106,629 M108,614 L118,614 M113,612 L113,617 M109,619 L117,619 M108,623 L118,623 M110,627 L117,627 Q117,632 112,632"/>
<path d="M121,617 L126,617 M123.5,613 L123.5,630 L121,631 M129,614 L139,614 M133,612 L134,616 M128,618 L140,618 M130,621 L138,621 L138,627 L130,627 z M131,627 Q131,632 128,632 M136,627 L136,631 L140,631"/>
</g>
</g>
<!--/WM-->

</svg>
</body></html>
